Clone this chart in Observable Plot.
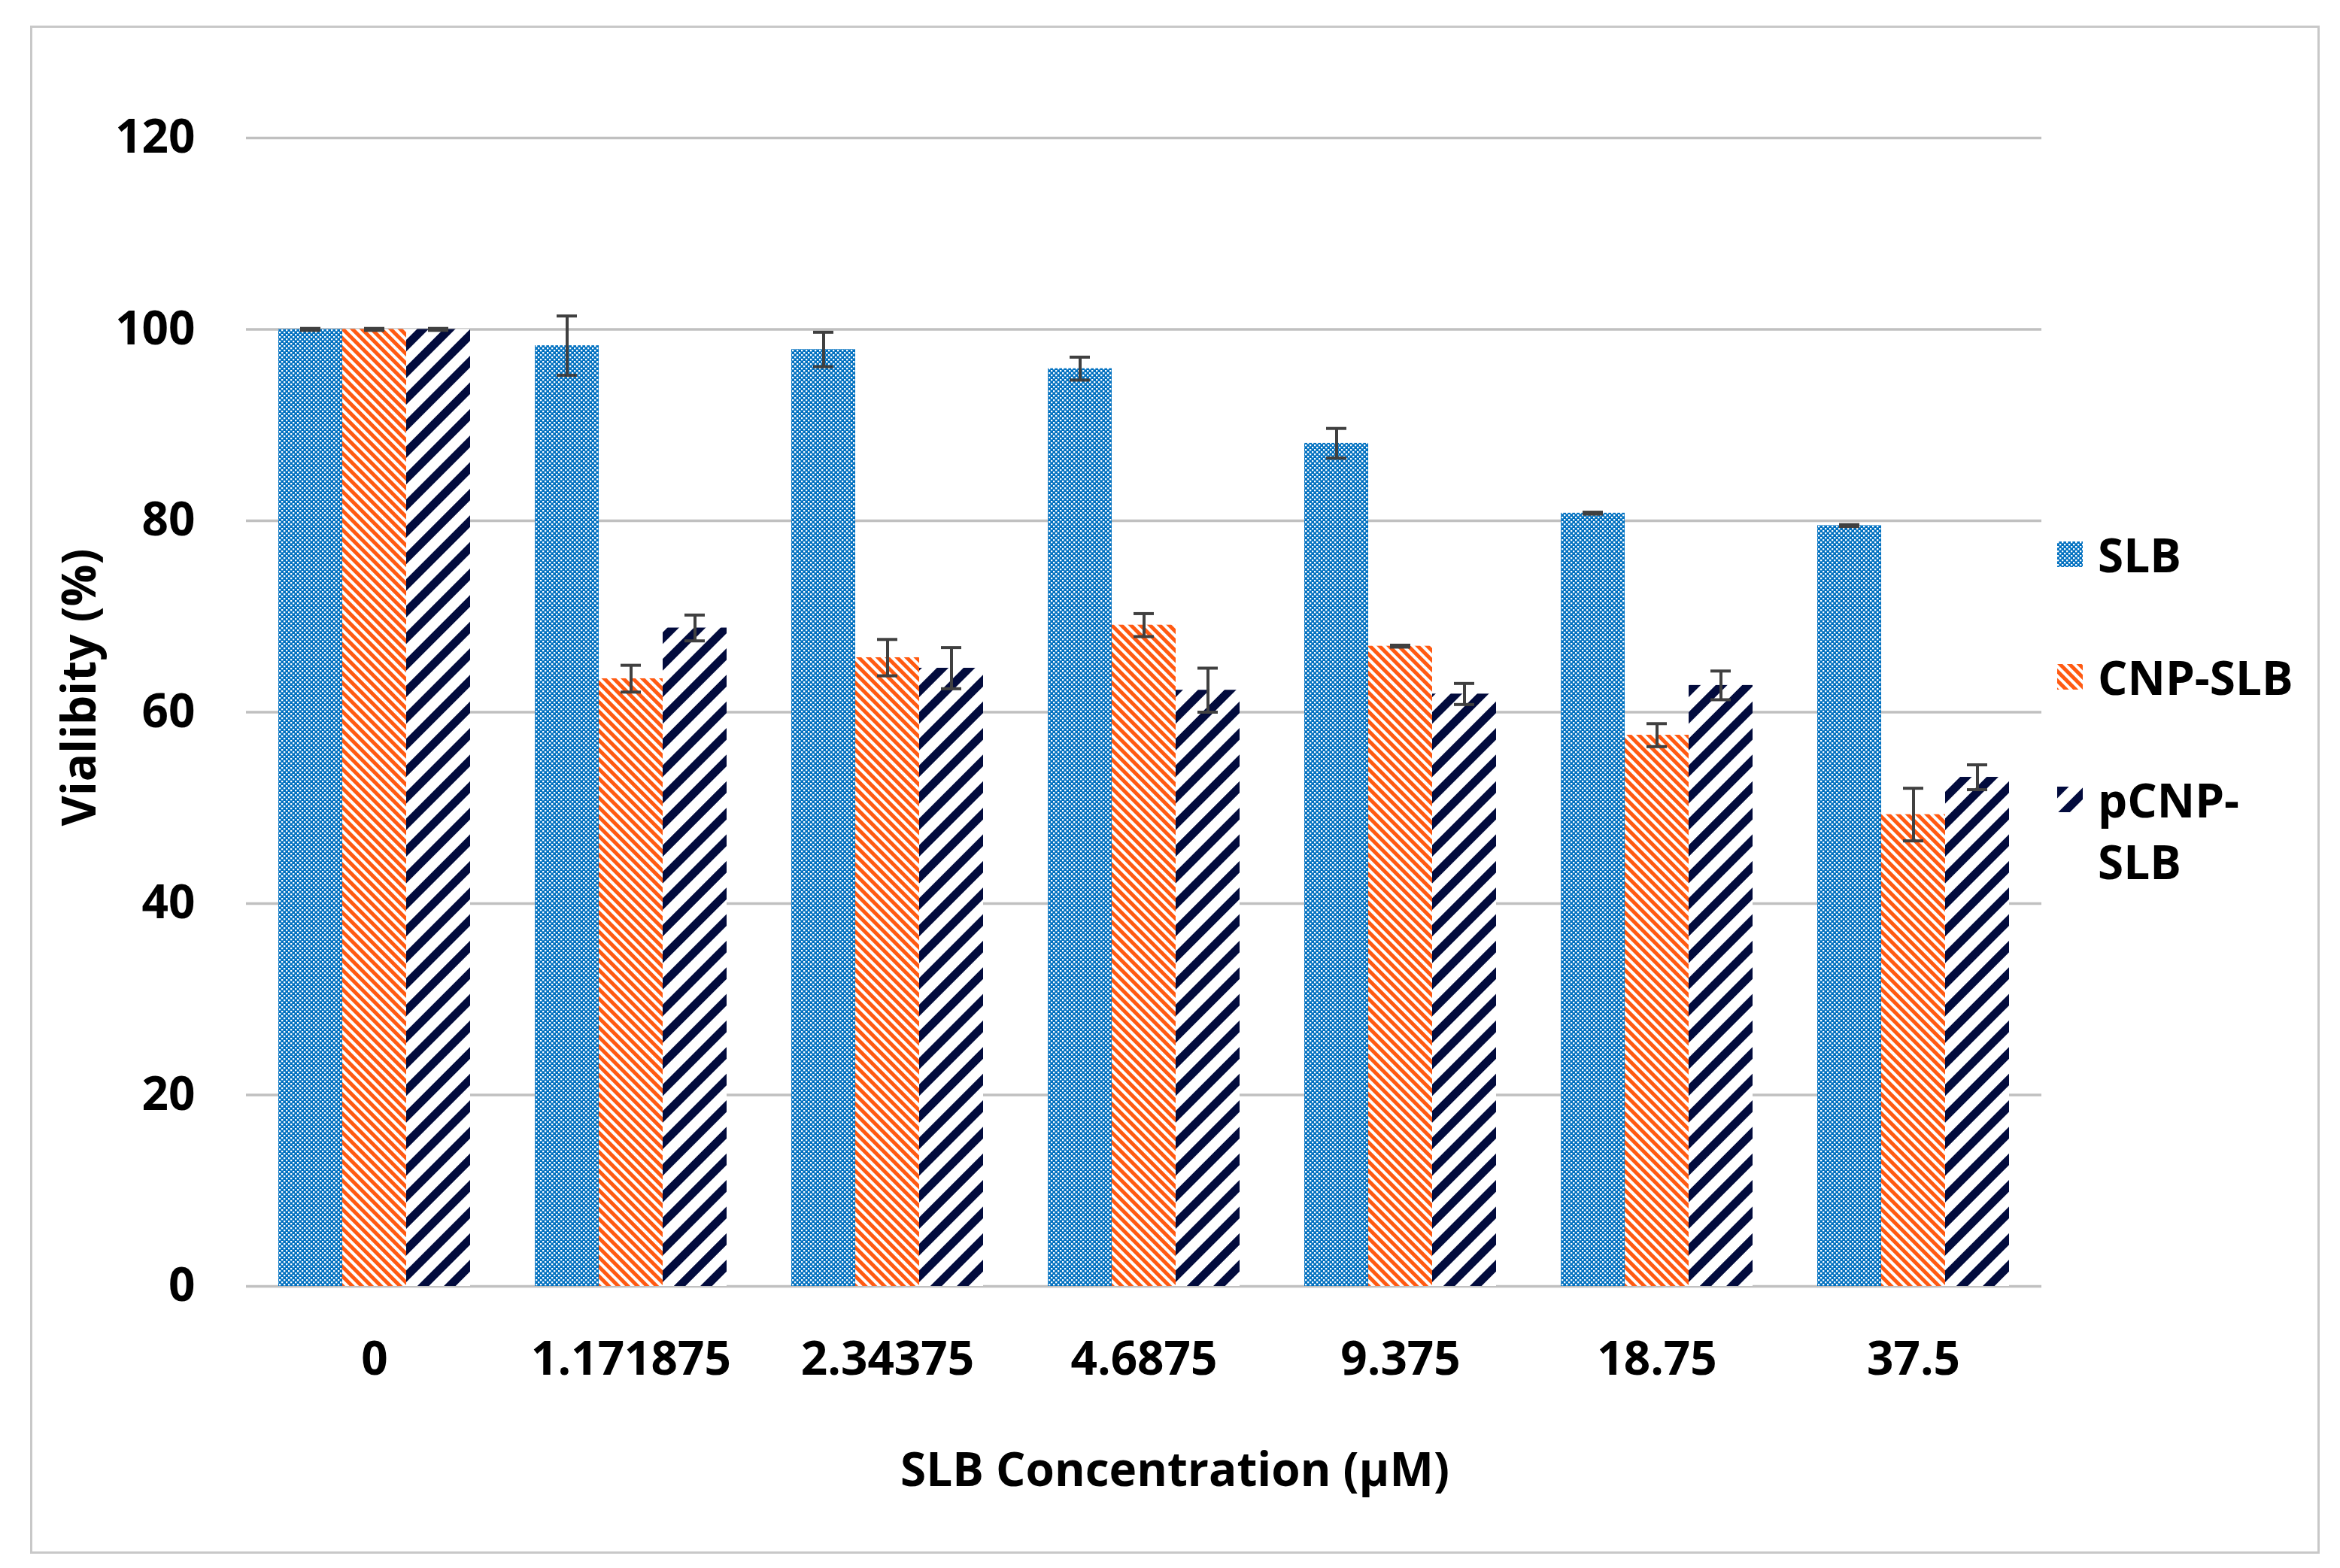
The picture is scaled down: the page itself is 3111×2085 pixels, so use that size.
<!DOCTYPE html>
<html>
<head>
<meta charset="utf-8">
<script src="https://cdn.jsdelivr.net/npm/d3@7"></script>
<script src="https://cdn.jsdelivr.net/npm/@observablehq/plot@0.6"></script>
<style>
  html, body { margin: 0; padding: 0; background: #ffffff; }
  #wrap { position: relative; width: 3111px; height: 2085px; background: #ffffff; overflow: hidden;
          font-family: 'Open Sans', 'Noto Sans', sans-serif; font-weight: 700; color: #000; }
  #frame { position: absolute; left: 40px; top: 34px; width: 3038px; height: 2026px;
           border: 3px solid #c8c8c8; pointer-events: none; }
  #chart { position: absolute; left: 0; top: 0; }
  #legend { position: absolute; left: 2735px; top: 696px; display: flex; flex-direction: column; gap: 81px; }
  .item { display: flex; align-items: flex-start; }
  .item svg { margin-top: 24px; flex: none; }
  .item span { margin-left: 20px; font-size: 62px; line-height: 82px; width: 265px; }
</style>
</head>
<body>
<div id="wrap">
  <div id="chart"></div>
  <div id="legend"></div>
  <div id="frame"></div>
</div>
<script>
const categories = ["0", "1.171875", "2.34375", "4.6875", "9.375", "18.75", "37.5"];
const series = ["SLB", "CNP-SLB", "pCNP-SLB"];
const slb     = [100, 98.3, 97.9, 95.9, 88.1, 80.8, 79.5];
const slbErr  = [0.1, 3.1, 1.8, 1.2, 1.55, 0.1, 0.1];
const cnp     = [100, 63.5, 65.7, 69.1, 66.9, 57.6, 49.3];
const cnpErr  = [0.1, 1.4, 1.9, 1.2, 0.1, 1.2, 2.75];
const pcnp    = [100, 68.8, 64.6, 62.3, 61.9, 62.8, 53.2];
const pcnpErr = [0.1, 1.35, 2.15, 2.3, 1.1, 1.5, 1.3];
const yTicks  = [0, 20, 40, 60, 80, 100, 120];

const patternIds = ["pat-slb", "pat-cnp", "pat-pcnp"];
const valuesBySeries = [slb, cnp, pcnp];
const errorsBySeries = [slbErr, cnpErr, pcnpErr];

const table = [];
categories.forEach((c, i) => {
  series.forEach((s, j) => {
    table.push({conc: c, series: s, v: valuesBySeries[j][i], e: errorsBySeries[j][i]});
  });
});

const errColor = "#404040";
const chart = Plot.plot({
  width: 3111,
  height: 2085,
  marginLeft: 325,
  marginRight: 396,
  marginTop: 183,
  marginBottom: 375,
  style: {background: "none", fontFamily: "'Open Sans', 'Noto Sans', sans-serif", fontWeight: 700, fontSize: "62px", color: "#000", overflow: "visible"},
  fx: {domain: categories, padding: 0, axis: "bottom", tickSize: 0, tickPadding: 73,
       label: "SLB Concentration (µM)", labelAnchor: "center", labelOffset: 265, labelArrow: "none"},
  x: {domain: series, axis: null, paddingInner: 0, paddingOuter: 0.5},
  y: {domain: [0, 120], ticks: yTicks, tickSize: 0, tickPadding: 68,
      label: "Vialibity (%)", labelAnchor: "center", labelOffset: 245, labelArrow: "none"},
  color: {domain: series, range: patternIds.map(id => `url(#${id})`)},
  marks: [
    Plot.ruleY(yTicks, {stroke: "#c0c0c0", strokeWidth: 3.5}),
    Plot.barY(table, {fx: "conc", x: "series", y: "v", fill: "series"}),
    Plot.ruleX(table, {fx: "conc", x: "series", y1: d => d.v - d.e, y2: d => d.v + d.e, stroke: errColor, strokeWidth: 4}),
    Plot.tickY(table, {fx: "conc", x: "series", y: d => d.v + d.e, stroke: errColor, strokeWidth: 4, insetLeft: 29, insetRight: 29}),
    Plot.tickY(table, {fx: "conc", x: "series", y: d => d.v - d.e, stroke: errColor, strokeWidth: 4, insetLeft: 29, insetRight: 29})
  ]
});

const NS = "http://www.w3.org/2000/svg";
function el(name, attrs, parent) {
  const n = document.createElementNS(NS, name);
  for (const k in attrs) n.setAttribute(k, attrs[k]);
  if (parent) parent.appendChild(n);
  return n;
}
const defs = el("defs", {});
// SLB: fine blue checker
let p = el("pattern", {id: "pat-slb", patternUnits: "userSpaceOnUse", width: 6, height: 6}, defs);
el("rect", {x: 0, y: 0, width: 6, height: 6, fill: "#0070c0"}, p);
el("rect", {x: 0, y: 0, width: 2.3, height: 2.3, fill: "#ffffff"}, p);
el("rect", {x: 3, y: 3, width: 2.3, height: 2.3, fill: "#ffffff"}, p);
// CNP-SLB: thin orange stripes, "\" direction
p = el("pattern", {id: "pat-cnp", patternUnits: "userSpaceOnUse", width: 9, height: 9, patternTransform: "rotate(-45)"}, defs);
el("rect", {x: 0, y: 0, width: 9, height: 9, fill: "#ffffff"}, p);
el("rect", {x: 0, y: 0, width: 5, height: 9, fill: "#ff5a12"}, p);
// pCNP-SLB: wide navy stripes, "/" direction
p = el("pattern", {id: "pat-pcnp", patternUnits: "userSpaceOnUse", width: 25, height: 25, patternTransform: "rotate(45)"}, defs);
el("rect", {x: 0, y: 0, width: 25, height: 25, fill: "#ffffff"}, p);
el("rect", {x: 0, y: 0, width: 11, height: 25, fill: "#020b3d"}, p);
chart.insertBefore(defs, chart.firstChild);

// small nudges of the axis titles to match the original placement
function nudge(label, dx, dy) {
  const g = chart.querySelector(`[aria-label="${label}"]`);
  if (g) g.setAttribute("transform", `translate(${dx},${dy}) ${g.getAttribute("transform") || ""}`);
}
nudge("y-axis label", 0, -33);
nudge("fx-axis label", 41, 0);

document.getElementById("chart").appendChild(chart);

const legend = document.getElementById("legend");
series.forEach((s, j) => {
  const item = document.createElement("div");
  item.className = "item";
  const sw = el("svg", {width: 34, height: 34});
  el("rect", {x: 0, y: 0, width: 34, height: 34, fill: `url(#${patternIds[j]})`}, sw);
  item.appendChild(sw);
  const t = document.createElement("span");
  t.textContent = s;
  item.appendChild(t);
  legend.appendChild(item);
});
</script>
</body>
</html>
